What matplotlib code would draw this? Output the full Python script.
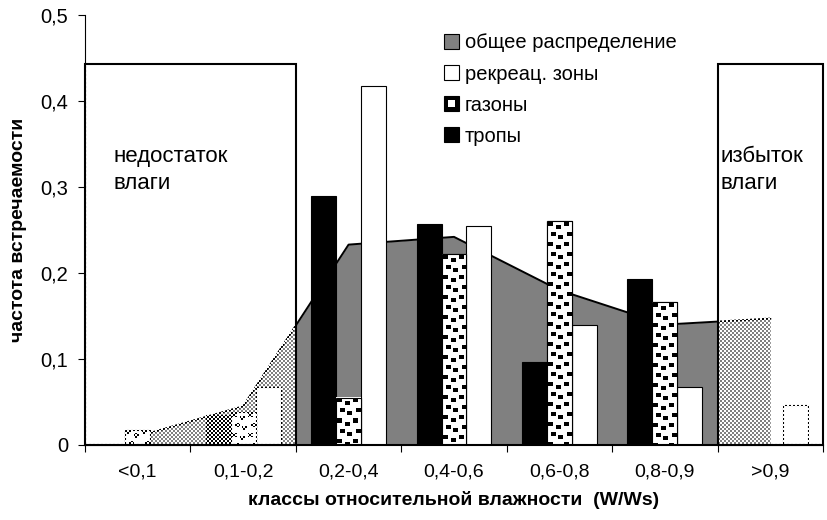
import numpy as np
import matplotlib.pyplot as plt
from matplotlib.patches import Rectangle, Patch
from matplotlib.legend_handler import HandlerBase

plt.rcParams['font.family'] = ['Liberation Sans', 'DejaVu Sans']

categories = ['<0,1', '0,1-0,2', '0,2-0,4', '0,4-0,6', '0,6-0,8', '0,8-0,9', '>0,9']
total = [0.010, 0.045, 0.233, 0.242, 0.180, 0.140, 0.147]
recreation = [0.0, 0.067, 0.417, 0.255, 0.140, 0.068, 0.046]
lawns = [0.018, 0.038, 0.055, 0.222, 0.260, 0.166, 0.0]
paths = [0.0, 0.035, 0.290, 0.257, 0.097, 0.193, 0.0]

series_names = ['общее распределение', 'рекреац. зоны', 'газоны', 'тропы']
y_ticks = [0, 0.1, 0.2, 0.3, 0.4, 0.5]
y_ticklabels = ['0', '0,1', '0,2', '0,3', '0,4', '0,5']
zone_top = 0.443


def pixel_size(ax, x0, y0, x1, y1):
    (px0, py0), (px1, py1) = ax.transData.transform([(x0, y0), (x1, y1)])
    return max(int(round(px1 - px0)), 1), max(int(round(py1 - py0)), 1)


def confetti(w, h):
    # white tile with scattered black squares
    tile = np.ones((20, 16))
    for r, c in [(1, 1), (4, 9), (11, 4), (14, 11)]:
        tile[r:r + 4, c:c + 5] = 0
    big = np.tile(tile, (h // 20 + 1, w // 16 + 1))
    return big[:h, :w]


def checker(w, h):
    yy, xx = np.mgrid[0:h, 0:w]
    arr = np.ones((h, w, 4))
    arr[..., 3] = ((yy // 2 + xx // 2) % 2 == 0).astype(float)
    return arr


class ConfettiHandler(HandlerBase):
    def create_artists(self, legend, orig_handle, xdescent, ydescent,
                       width, height, fontsize, trans):
        outer = Rectangle((-xdescent, -ydescent), width, height,
                          facecolor='black', edgecolor='black', lw=0.8,
                          transform=trans)
        inner = Rectangle((-xdescent + width * 0.3, -ydescent + height * 0.3),
                          width * 0.45, height * 0.45, facecolor='white',
                          edgecolor='none', transform=trans)
        return [outer, inner]


fig = plt.figure(figsize=(8.27, 5.2), dpi=100)
ax = fig.add_axes([85 / 827, 75 / 520, 738 / 827, 430 / 520])

x = np.arange(len(categories))
ax.set_xlim(-0.5, len(categories) - 0.5)
ax.set_ylim(0, 0.5)

# general distribution as a grey area
ax.fill_between(x, total, color='#808080', lw=0, zorder=1)
ax.plot(x, total, color='black', lw=1.4, zorder=1.5)

bw = 0.237
ax.bar(x - bw, paths, bw, color='black', edgecolor='black', lw=0.8, zorder=2)
ax.bar(x + bw, recreation, bw, facecolor='white', edgecolor='black', lw=0.8, zorder=2)
ax.bar(x, lawns, bw, facecolor='white', edgecolor='black', lw=0.8, zorder=2)

# patterned fill for lawns
for xi, v in zip(x, lawns):
    if v <= 0:
        continue
    x0, x1 = xi - bw / 2, xi + bw / 2
    w, h = pixel_size(ax, x0, 0, x1, v)
    ax.imshow(confetti(w, h), cmap='gray', vmin=0, vmax=1,
              extent=(x0, x1, 0, v), aspect='auto',
              interpolation='nearest', zorder=2.5)
ax.bar(x, lawns, bw, fill=False, edgecolor='black', lw=0.8, zorder=3)

# shaded zones: lack and excess of moisture
zones = [(-0.5, 1.5, 'недостаток\nвлаги', -0.23),
         (5.5, 6.5, 'избыток\nвлаги', 5.53)]
for z0, z1, label, tx in zones:
    w, h = pixel_size(ax, z0, 0, z1, zone_top)
    ax.imshow(checker(w, h), extent=(z0, z1, 0, zone_top), aspect='auto',
              interpolation='nearest', zorder=4)
    ax.add_patch(Rectangle((z0, 0), z1 - z0, zone_top, fill=False,
                           edgecolor='black', lw=1.5, zorder=5, clip_on=False))
    ax.text(tx, 0.32, label, fontsize=16, va='center', ha='left',
            linespacing=1.35, zorder=6)

ax.set_xlim(-0.5, len(categories) - 0.5)
ax.set_ylim(0, 0.5)

for side in ['top', 'right']:
    ax.spines[side].set_visible(False)
ax.spines['left'].set_linewidth(0.8)
ax.spines['bottom'].set_linewidth(1.5)

ax.set_yticks(y_ticks)
ax.set_yticklabels(y_ticklabels, fontsize=14.5)
ax.tick_params(axis='y', length=5, width=0.8, pad=7)

ax.set_xticks(x)
ax.set_xticklabels(categories, fontsize=14)
ax.set_xticks(np.arange(len(categories) + 1) - 0.5, minor=True)
ax.tick_params(axis='x', which='major', length=0, pad=13)
ax.tick_params(axis='x', which='minor', length=5, width=0.8)

ax.set_xlabel('классы относительной влажности  (W/Ws)', fontsize=14,
              fontweight='bold', labelpad=8)
ax.set_ylabel('частота встречаемости', fontsize=14, fontweight='bold',
              labelpad=10)

lawn_handle = Patch(facecolor='white', edgecolor='black')
handles = [Patch(facecolor='#808080', edgecolor='black', lw=0.8),
           Patch(facecolor='white', edgecolor='black', lw=0.8),
           lawn_handle,
           Patch(facecolor='black', edgecolor='black', lw=0.8)]
ax.legend(handles, series_names, loc='upper left', bbox_to_anchor=(0.486, 0.957),
          frameon=False, fontsize=14.5, borderaxespad=0, borderpad=0,
          handlelength=0.75, handleheight=0.75, handletextpad=0.3,
          labelspacing=0.6, handler_map={lawn_handle: ConfettiHandler()})

fig.savefig('out.png', dpi=100)
